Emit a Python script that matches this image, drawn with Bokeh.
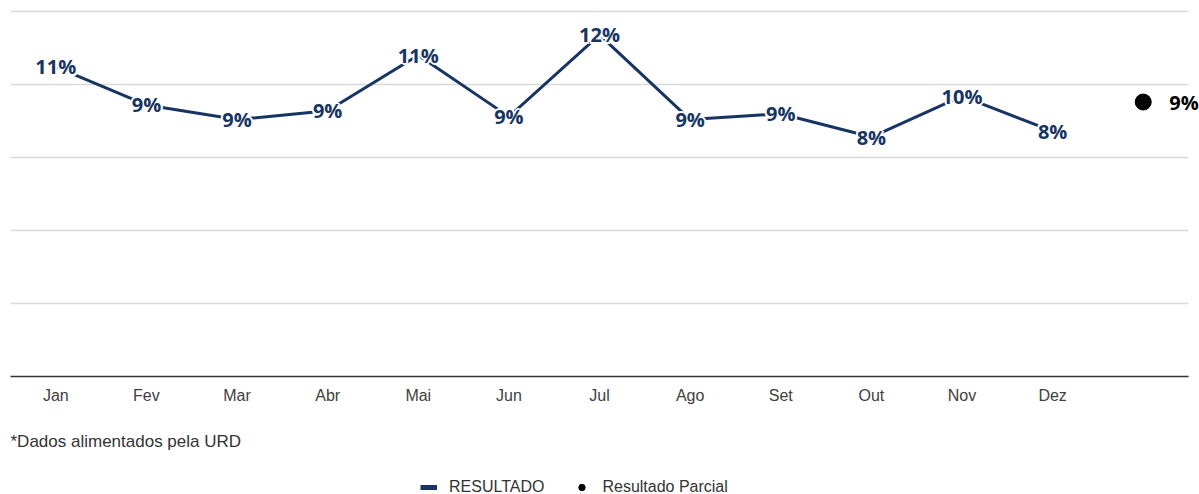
from bokeh.plotting import figure
from bokeh.layouts import column
from bokeh.models import Range1d, FixedTicker, Legend, LegendItem, Label, ColumnDataSource
from bokeh.core.properties import value
from bokeh.embed import file_html
from bokeh.resources import INLINE

months = ["Jan", "Fev", "Mar", "Abr", "Mai", "Jun", "Jul", "Ago", "Set", "Out", "Nov", "Dez"]
resultado = [10.6, 9.3, 8.8, 9.1, 11.0, 8.9, 11.7, 8.8, 9.0, 8.2, 9.6, 8.4]
parcial = [9.4]
grid_ticks = [2.5, 5, 7.5, 10, 12.5]
footnote = "*Dados alimentados pela URD"
series_names = ["RESULTADO", "Resultado Parcial"]

NAVY = "#173463"
xs = list(range(1, len(months) + 1))
x_parcial = [len(months) + 1]
x_lo, x_hi = 0.5, len(months) + 1.5

src = ColumnDataSource(dict(x=xs, y=resultado, lab=[f"{round(v)}%" for v in resultado]))
src_p = ColumnDataSource(dict(x=x_parcial, y=parcial, lab=[f"{round(v)}%" for v in parcial]))

p = figure(frame_width=1189, frame_height=368, x_range=Range1d(x_lo, x_hi + 0.121), y_range=Range1d(0, 12.603),
           output_backend="svg", toolbar_location=None,
           min_border_left=10, min_border_right=0, min_border_top=8, min_border_bottom=40)
p.outline_line_color = None
p.background_fill_color = "white"
p.border_fill_color = "white"

p.yaxis.visible = False
p.xgrid.visible = False
p.ygrid.visible = False
# horizontal gridlines spanning the category area only
p.segment(x0=[x_lo] * len(grid_ticks), x1=[x_hi] * len(grid_ticks), y0=grid_ticks, y1=grid_ticks,
          line_color="#d9d9d9", line_width=1.5)

ax = p.xaxis[0]
ax.ticker = FixedTicker(ticks=xs)
ax.bounds = (x_lo, x_hi)
ax.major_label_overrides = {i: m for i, m in zip(xs, months)}
ax.major_tick_line_color = None
ax.minor_tick_line_color = None
ax.axis_line_color = "#333333"
ax.axis_line_width = 1.5
ax.major_label_text_font = "Liberation Sans"
ax.major_label_text_font_size = "16px"
ax.major_label_text_color = "#404040"
ax.major_label_standoff = 4

line_r = p.line("x", "y", source=src, line_color=NAVY, line_width=3)

label_style = dict(text_align="center", text_baseline="middle",
                   text_font=value("Open Sans"), text_font_style="bold", text_font_size="20px")
halo = [(-2, 0), (2, 0), (0, -2), (0, 2), (-1.5, -1.5), (1.5, -1.5), (-1.5, 1.5), (1.5, 1.5)]
for dx, dy in halo:
    p.text("x", "y", text="lab", source=src, x_offset=dx, y_offset=dy, text_color="white", **label_style)
p.text("x", "y", text="lab", source=src, text_color=NAVY, **label_style)

dot_r = p.scatter("x", "y", source=src_p, size=16, color="black")
p.text("x", "y", text="lab", source=src_p, x_offset=26, text_align="left", text_baseline="middle",
       text_font=value("Open Sans"), text_font_style="bold", text_font_size="20px",
       text_color="black")

# ---- footer strip: footnote + legend ----
f = figure(width=1199, height=78, x_range=Range1d(-1, 0), y_range=Range1d(-1, 0),
           x_axis_type=None, y_axis_type=None, output_backend="svg", toolbar_location=None,
           min_border=0)
f.outline_line_color = None
f.grid.visible = False
f.border_fill_color = "white"

f.add_layout(Label(x=0, y=53, x_units="screen", y_units="screen", text=footnote,
                   text_font="Liberation Sans", text_font_size="17px", text_color="#333333",
                   text_baseline="middle"))

# legend renderers carry the real series but lie outside this strip's ranges (not drawn)
leg_line = f.line(x=xs, y=resultado, line_color=NAVY, line_width=5)
leg_dot = f.scatter(x=x_parcial, y=parcial, size=15, color="black")

legend = Legend(items=[LegendItem(label=series_names[0], renderers=[leg_line]),
                       LegendItem(label=series_names[1], renderers=[leg_dot])],
                orientation="horizontal", location=(410, -2),
                border_line_color=None, background_fill_alpha=0,
                label_text_font="Liberation Sans", label_text_font_size="16px",
                label_text_color="#333333", glyph_width=17, glyph_height=16,
                label_standoff=12, spacing=29, padding=0, margin=0)
f.add_layout(legend, "center")

layout = column(p, f, spacing=0)
open("out.html", "w").write(file_html(layout, INLINE))
